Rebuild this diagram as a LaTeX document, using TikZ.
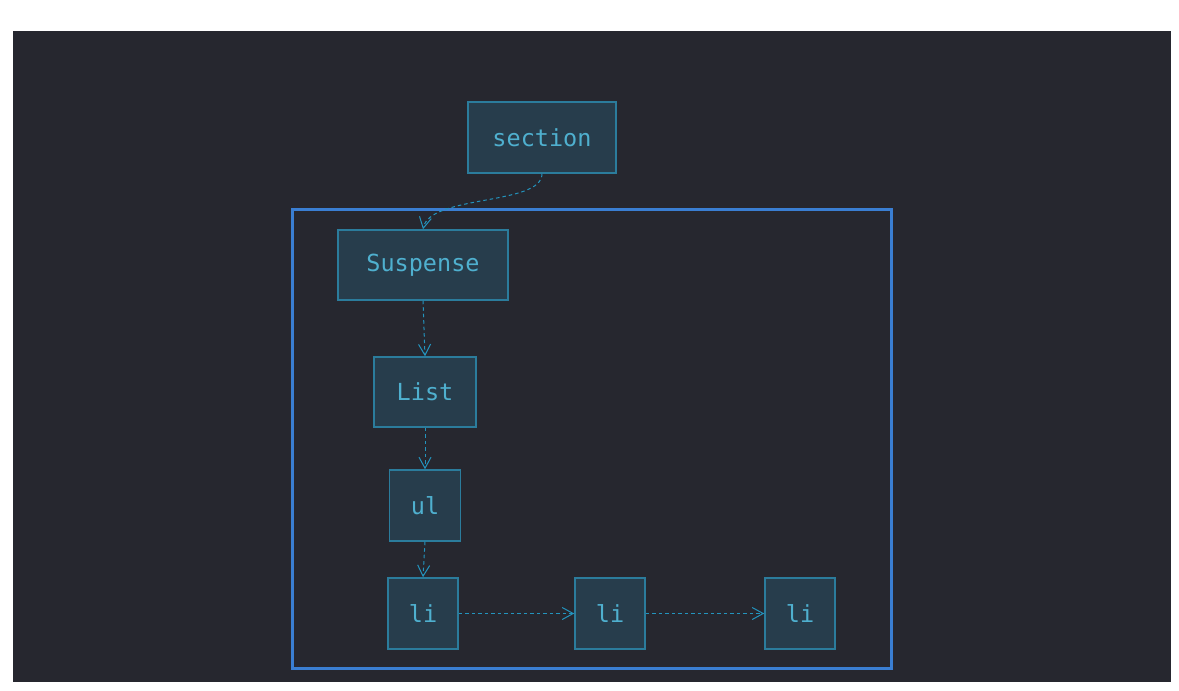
\documentclass[tikz,border=0pt]{standalone}
\usepackage{fontspec}
\newfontfamily\codefont{DejaVu Sans Mono}
\usetikzlibrary{arrows.meta}
\definecolor{bgdark}{HTML}{26272F}
\definecolor{nodefill}{HTML}{273D4C}
\definecolor{nodeline}{HTML}{2B7C9C}
\definecolor{nodetext}{HTML}{4FB0CF}
\definecolor{edgecol}{HTML}{2394BE}
\definecolor{framecol}{HTML}{3A7ED2}
\tikzset{
  box/.style={draw=nodeline, fill=nodefill, line width=1.5pt, inner sep=0pt,
    text=nodetext, font=\codefont\fontsize{23.5}{27}\selectfont},
  link/.style={draw=edgecol, line width=1pt, dash pattern=on 3.5pt off 3pt,
    -{Straight Barb[length=11pt,width=12pt,line width=1pt]}},
}
\begin{document}
\begin{tikzpicture}[x=1pt,y=-1pt]
\useasboundingbox (0,0) rectangle (1179,691);
\fill[white] (0,0) rectangle (1179,691);
\fill[bgdark] (13,31) rectangle (1171,682);
\draw[framecol, line width=3pt] (292,209) rectangle (891,668);
\node[box, minimum width=148pt, minimum height=71pt] (sec) at (542,137.5) {section};
\node[box, minimum width=170pt, minimum height=70pt] (sus) at (423,265) {Suspense};
\node[box, minimum width=102pt, minimum height=70pt] (list) at (425,392) {List};
\node[box, minimum width=71pt, minimum height=71pt] (ul) at (425,505.5) {ul};
\node[box, minimum width=70pt, minimum height=71pt] (li1) at (423,613.5) {li};
\node[box, minimum width=70pt, minimum height=71pt] (li2) at (610,613.5) {li};
\node[box, minimum width=70pt, minimum height=71pt] (li3) at (800,613.5) {li};
\draw[link] (sec.south) .. controls +(0,32) and +(7,-35) .. (sus.north);
\draw[link] (sus.south) -- (list.north);
\draw[link] (list.south) -- (ul.north);
\draw[link] (ul.south) -- (li1.north);
\draw[link] (li1.east) -- (li2.west);
\draw[link] (li2.east) -- (li3.west);
\end{tikzpicture}
\end{document}
